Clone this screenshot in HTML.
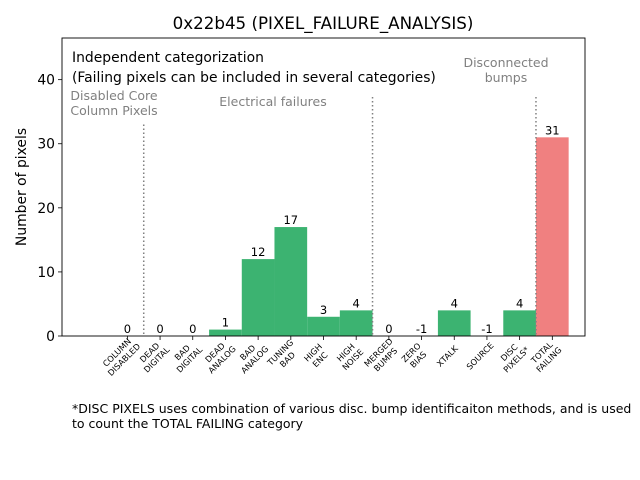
<!DOCTYPE html>
<html><head><meta charset="utf-8"><style>
html,body{margin:0;padding:0;background:#fff;}
svg{display:block;font-family:"DejaVu Sans","Liberation Sans",sans-serif;}
</style></head><body>
<svg id="chart" width="640" height="480" viewBox="0 0 640 480">
<text x="323" y="29" font-size="16.7" text-anchor="middle">0x22b45 (PIXEL_FAILURE_ANALYSIS)</text>
<g id="plot"></g>
<rect x="62" y="38" width="523" height="298" fill="none" stroke="#000" stroke-width="0.9"/>
<text x="72" y="62" font-size="13.9">Independent categorization</text>
<text x="72" y="82" font-size="13.9">(Failing pixels can be included in several categories)</text>
<text x="114" y="100" font-size="12.5" fill="#808080" text-anchor="middle">Disabled Core</text>
<text x="114" y="115" font-size="12.5" fill="#808080" text-anchor="middle">Column Pixels</text>
<text x="273" y="106" font-size="12.5" fill="#808080" text-anchor="middle">Electrical failures</text>
<text x="506" y="67" font-size="12.5" fill="#808080" text-anchor="middle">Disconnected</text>
<text x="506" y="82" font-size="12.5" fill="#808080" text-anchor="middle">bumps</text>
<text x="26" y="187" font-size="13.9" text-anchor="middle" transform="rotate(-90 26 187)">Number of pixels</text>
<text x="72" y="413" font-size="12.5">*DISC PIXELS uses combination of various disc. bump identificaiton methods, and is used</text>
<text x="72" y="428" font-size="12.5">to count the TOTAL FAILING category</text>
</svg>
<script>
const categories=[["COLUMN","DISABLED"],["DEAD","DIGITAL"],["BAD","DIGITAL"],["DEAD","ANALOG"],["BAD","ANALOG"],["TUNING","BAD"],["HIGH","ENC"],["HIGH","NOISE"],["MERGED","BUMPS"],["ZERO","BIAS"],["XTALK"],["SOURCE"],["DISC","PIXELS*"],["TOTAL","FAILING"]];
const values=[0,0,0,1,12,17,3,4,0,-1,4,-1,4,31];
const yTicks=[0,10,20,30,40];
const separators=[0.5,7.5,12.5];
const separatorTops=[33,37.3,37.3];
const NS="http://www.w3.org/2000/svg";
const plot=document.getElementById('plot');
const x0=62,x1=585,y0=336,y1=38,xmin=-2,xmax=14,ymin=0,ymax=46.5;
function sx(v){return x0+(v-xmin)/(xmax-xmin)*(x1-x0);}
function sy(v){return y0-(v-ymin)/(ymax-ymin)*(y0-y1);}
function mk(t,a){const e=document.createElementNS(NS,t);for(const k in a)e.setAttribute(k,a[k]);plot.appendChild(e);return e;}
values.forEach((v,i)=>{
  const col=i===values.length-1?"#f08080":"#3cb371";
  if(v>0){
    const r=mk('rect',{x:sx(i-0.5),y:sy(v),width:sx(i+0.5)-sx(i-0.5),height:sy(0)-sy(v),fill:col});
    
    
  }
  const t=mk('text',{x:sx(i),y:sy(Math.max(v,0))-3,'font-size':11.5,'text-anchor':'middle'});
  t.textContent=v;
  
  
  const tk=mk('line',{x1:sx(i),x2:sx(i),y1:y0,y2:y0+4,stroke:'#000','stroke-width':0.8});
  
  
  const g=mk('text',{'font-size':8.3,'text-anchor':'middle',transform:`translate(${sx(i)-7},${y0+20}) rotate(-45)`});
  
  
  const n=categories[i].length;
  categories[i].forEach((s,j)=>{const ts=document.createElementNS(NS,'tspan');ts.setAttribute('x',0);ts.setAttribute('y',j*10-(n-1)*5+3);ts.setAttribute('text-anchor','middle');ts.textContent=s;g.appendChild(ts);});
});
separators.forEach((s,i)=>{
  const l=mk('line',{x1:sx(s),x2:sx(s),y1:sy(separatorTops[i]),y2:y0,stroke:'#808080','stroke-width':1.5,'stroke-dasharray':'1.5,2.5'});
  
  
});
yTicks.forEach(v=>{
  const l=mk('line',{x1:x0-4,x2:x0,y1:sy(v),y2:sy(v),stroke:'#000','stroke-width':0.8});
  
  
  const t=mk('text',{x:x0-7,y:sy(v)+5,'font-size':13.9,'text-anchor':'end'});
  t.textContent=v;
  
  
});
</script>
</body></html>
